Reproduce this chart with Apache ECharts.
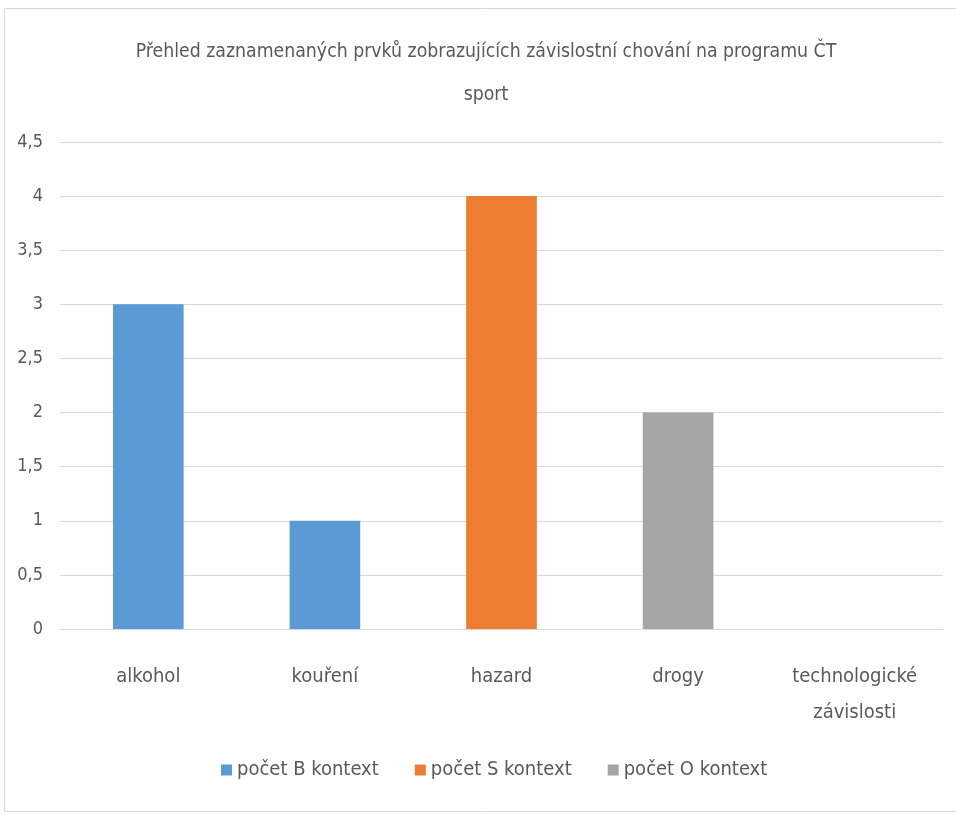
<!DOCTYPE html>
<html><head><meta charset="utf-8">
<script src="https://cdn.jsdelivr.net/npm/echarts@6/dist/echarts.min.js"></script>
<style>html,body{margin:0;padding:0;background:#fff}#c{width:956px;height:815px}</style>
</head><body><div id="c"></div>
<script>
const categories = ['alkohol', 'kouření', 'hazard', 'drogy', 'technologické\nzávislosti'];
const seriesNames = ['počet B kontext', 'počet S kontext', 'počet O kontext'];
const valuesB = [3, 1, 0, 0, 0];
const valuesS = [0, 0, 4, 0, 0];
const valuesO = [0, 0, 0, 2, 0];
const colors = ['#5b9bd5', '#ed7d31', '#a5a5a5'];
const FONT = '"Liberation Sans Narrow", "DejaVu Sans Condensed", sans-serif';
const chart = echarts.init(document.getElementById('c'));
chart.setOption({
  backgroundColor: '#fff',
  graphic: [{type:'rect', shape:{x:4.5, y:8.5, width:960, height:803}, style:{fill:'none', stroke:'#d9d9d9', lineWidth:1}, silent:true}],
  title: {
    text: 'Přehled zaznamenaných prvků zobrazujících závislostní chování na programu ČT\nsport',
    left: 481, top: 25, textAlign: 'center',
    textStyle: {fontFamily: FONT, fontSize: 19.3, fontWeight: 'normal', color: '#595959', lineHeight: 43}
  },
  legend: {
    bottom: 30, left: 216, itemWidth: 11, itemHeight: 11, itemGap: 36, icon: 'rect',
    textStyle: {fontFamily: FONT, fontSize: 20, color: '#595959'},
    data: seriesNames
  },
  grid: {left: 60, right: 13, top: 142, bottom: 186},
  xAxis: {
    type: 'category', data: categories,
    axisLine: {lineStyle: {color: '#d9d9d9'}}, axisTick: {show: false},
    axisLabel: {fontFamily: FONT, fontSize: 20, color: '#595959', margin: 30, lineHeight: 36, interval: 0}
  },
  yAxis: {
    type: 'value', min: 0, max: 4.5, interval: 0.5,
    axisLine: {show: false}, axisTick: {show: false},
    splitLine: {lineStyle: {color: '#d9d9d9'}},
    axisLabel: {fontFamily: FONT, fontSize: 18, color: '#595959', margin: 17,
      formatter: v => String(v).replace('.', ',')}
  },
  series: [
    {name: seriesNames[0], type: 'bar', stack: 'a', data: valuesB, barWidth: '40%', itemStyle: {color: colors[0]}},
    {name: seriesNames[1], type: 'bar', stack: 'a', data: valuesS, barWidth: '40%', itemStyle: {color: colors[1]}},
    {name: seriesNames[2], type: 'bar', stack: 'a', data: valuesO, barWidth: '40%', itemStyle: {color: colors[2]}}
  ]
});
</script></body></html>
